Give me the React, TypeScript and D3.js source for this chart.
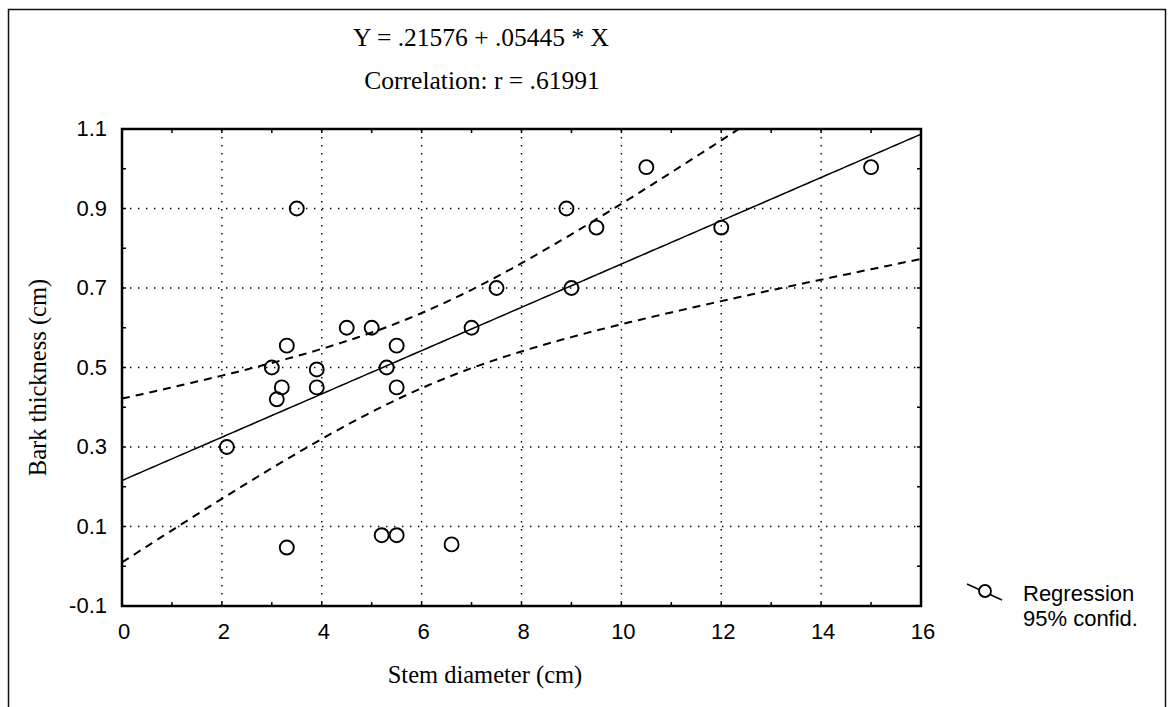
import React from 'react';
import * as d3 from 'd3';

// stem diameter (cm) and bark thickness (cm)
const stemDiameter = [2.1, 3.0, 3.1, 3.2, 3.3, 3.3, 3.5, 3.9, 3.9, 4.5, 5.0, 5.3, 5.5, 5.5, 5.2, 5.5, 6.6, 7.0, 7.5, 8.9, 9.0, 9.5, 10.5, 12.0, 15.0];
const barkThickness = [0.3, 0.5, 0.42, 0.45, 0.555, 0.047, 0.9, 0.45, 0.495, 0.6, 0.6, 0.5, 0.555, 0.45, 0.078, 0.078, 0.055, 0.6, 0.7, 0.9, 0.7, 0.852, 1.004, 0.852, 1.004];

const intercept = 0.21576;
const slope = 0.05445;
const xTicks = [0, 2, 4, 6, 8, 10, 12, 14, 16];
const yTicks = [-0.1, 0.1, 0.3, 0.5, 0.7, 0.9, 1.1];
const xMinor = [1, 3, 5, 7, 9, 11, 13, 15];
const yMinor = [0, 0.2, 0.4, 0.6, 0.8, 1.0];
const legendLabels = ['Regression', '95% confid.'];

const W = 1169;
const H = 707;
const plot = { left: 122, right: 921, top: 129, bottom: 606 };

const serif = '"Liberation Serif", "Times New Roman", serif';
const sans = '"Liberation Sans", Arial, sans-serif';

export default function App() {
  const x = d3.scaleLinear().domain([0, 16]).range([plot.left, plot.right]);
  const y = d3.scaleLinear().domain([-0.1, 1.1]).range([plot.bottom, plot.top]);

  // 95% confidence band of the fitted line, from the points
  const n = stemDiameter.length;
  const xm = d3.mean(stemDiameter) as number;
  const sxx = d3.sum(stemDiameter, (v) => (v - xm) ** 2);
  const sse = d3.sum(stemDiameter, (v, i) => (barkThickness[i] - (intercept + slope * v)) ** 2);
  const s = Math.sqrt(sse / (n - 2));
  const t = 2.0687;
  const xs = d3.range(0, 16.001, 0.1);
  const fit = (v: number) => intercept + slope * v;
  const half = (v: number) => t * s * Math.sqrt(1 / n + (v - xm) ** 2 / sxx);

  const line = d3
    .line<number>()
    .x((v) => x(v))
    .y((v) => y(fit(v)));
  const upper = d3
    .line<number>()
    .x((v) => x(v))
    .y((v) => y(fit(v) + half(v)));
  const lower = d3
    .line<number>()
    .x((v) => x(v))
    .y((v) => y(fit(v) - half(v)));

  const pw = plot.right - plot.left;
  const ph = plot.bottom - plot.top;

  return (
    <svg width={W} height={H} style={{ position: 'fixed', left: 0, top: 0, background: '#fff' }}>
      <defs>
        <clipPath id="plotClip">
          <rect x={plot.left} y={plot.top} width={pw} height={ph} />
        </clipPath>
      </defs>

      {/* outer frame */}
      <rect x={8.5} y={9.5} width={1157} height={720} fill="none" stroke="#111" strokeWidth={1.5} />

      {/* header */}
      <text x={481} y={46} textAnchor="middle" fontFamily={serif} fontSize={25.5}>
        Y = .21576 + .05445 * X
      </text>
      <text x={482} y={89} textAnchor="middle" fontFamily={serif} fontSize={25.5}>
        Correlation: r = .61991
      </text>

      {/* grid */}
      <g stroke="#000" strokeWidth={1.4} strokeDasharray="1.4 6.6">
        {xTicks.slice(1, -1).map((v) => (
          <line key={'gx' + v} x1={x(v)} x2={x(v)} y1={plot.top} y2={plot.bottom} />
        ))}
        {yTicks.slice(1, -1).map((v) => (
          <line key={'gy' + v} x1={plot.left} x2={plot.right} y1={y(v)} y2={y(v)} />
        ))}
      </g>

      {/* regression line and confidence band */}
      <g clipPath="url(#plotClip)" fill="none" stroke="#000">
        <path d={line(xs) || ''} strokeWidth={1.5} />
        <path d={upper(xs) || ''} strokeWidth={2} strokeDasharray="8 6" />
        <path d={lower(xs) || ''} strokeWidth={2} strokeDasharray="8 6" />
      </g>

      {/* points */}
      <g fill="none" stroke="#000" strokeWidth={1.9}>
        {stemDiameter.map((v, i) => (
          <circle key={i} cx={x(v)} cy={y(barkThickness[i])} r={7} />
        ))}
      </g>

      {/* ticks */}
      <g stroke="#000" strokeWidth={1.5}>
        {[...xTicks, ...xMinor].map((v) => (
          <g key={'tx' + v}>
            <line x1={x(v)} x2={x(v)} y1={plot.bottom} y2={plot.bottom - 4} />
            <line x1={x(v)} x2={x(v)} y1={plot.top} y2={plot.top + 4} />
          </g>
        ))}
        {[...yTicks, ...yMinor].map((v) => (
          <g key={'ty' + v}>
            <line x1={plot.left} x2={plot.left + 4} y1={y(v)} y2={y(v)} />
            <line x1={plot.right} x2={plot.right - 4} y1={y(v)} y2={y(v)} />
          </g>
        ))}
      </g>

      {/* plot frame */}
      <rect x={plot.left} y={plot.top} width={pw} height={ph} fill="none" stroke="#000" strokeWidth={2.5} />

      {/* tick labels */}
      <g fontFamily={sans} fontSize={22} fill="#000">
        {xTicks.map((v) => (
          <text key={'lx' + v} x={x(v) + 2} y={639} textAnchor="middle">
            {d3.format('d')(v)}
          </text>
        ))}
        {yTicks.map((v) => (
          <text key={'ly' + v} x={107} y={y(v) + 7} textAnchor="end">
            {v < 0 ? '-' + d3.format('.1f')(-v) : d3.format('.1f')(v)}
          </text>
        ))}
      </g>

      {/* axis titles */}
      <text x={485} y={683} textAnchor="middle" fontFamily={serif} fontSize={24.5}>
        Stem diameter (cm)
      </text>
      <text
        transform={`translate(46,${(plot.top + plot.bottom) / 2 + 10}) rotate(-90)`}
        textAnchor="middle"
        fontFamily={serif}
        fontSize={24.5}
      >
        Bark thickness (cm)
      </text>

      {/* legend */}
      <g>
        <line x1={967} y1={584} x2={1002} y2={600} stroke="#000" strokeWidth={1.5} />
        <circle cx={985} cy={591} r={6} fill="#fff" stroke="#000" strokeWidth={1.8} />
        {legendLabels.map((l, i) => (
          <text key={l} x={1023} y={601 + i * 25} fontFamily={sans} fontSize={22}>
            {l}
          </text>
        ))}
      </g>
    </svg>
  );
}
